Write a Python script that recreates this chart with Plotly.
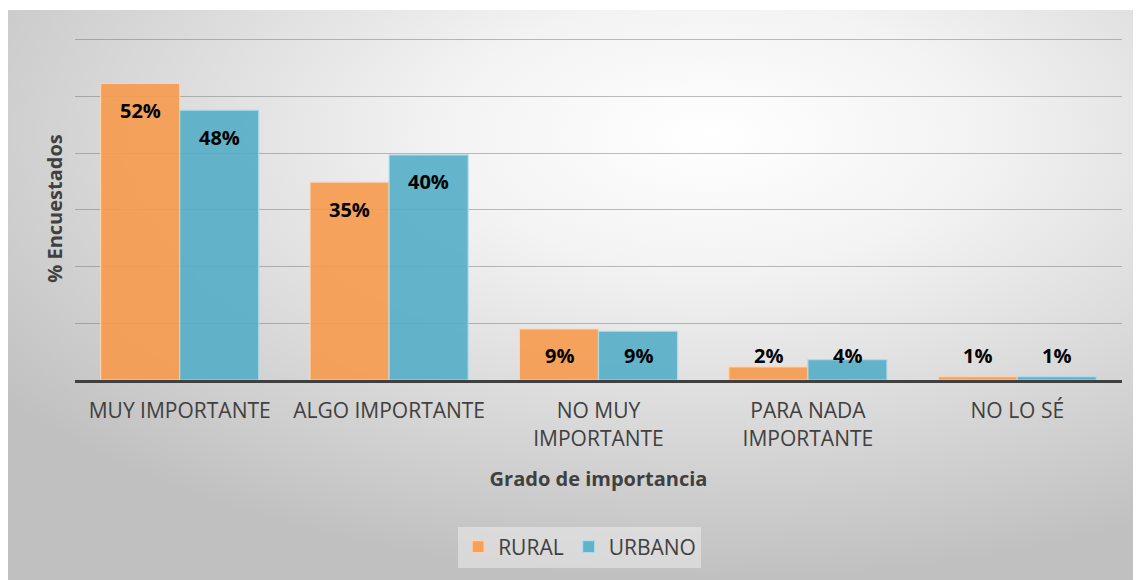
import base64
import plotly.graph_objects as go

categories = ["MUY IMPORTANTE", "ALGO IMPORTANTE", "NO MUY<br>IMPORTANTE",
              "PARA NADA<br>IMPORTANTE", "NO LO SÉ"]
rural = [52.3, 34.9, 9.0, 2.3, 0.6]
urbano = [47.6, 39.7, 8.6, 3.6, 0.6]

font = "'Open Sans', sans-serif"
grey_txt = "#404040"

# radial grey gradient behind the whole chart, like the Excel chart style
svg = """<svg xmlns='http://www.w3.org/2000/svg' width='1134' height='570'>
<defs><radialGradient id='g' cx='0.62' cy='0.22' r='0.78'>
<stop offset='0' stop-color='#ffffff'/>
<stop offset='0.3' stop-color='#f3f3f3'/>
<stop offset='1' stop-color='#c0c0c0'/>
</radialGradient></defs>
<rect width='1134' height='570' fill='url(#g)'/>
</svg>"""
bg_src = "data:image/svg+xml;base64," + base64.b64encode(svg.encode()).decode()

fig = go.Figure()
fig.add_trace(go.Bar(x=categories, y=rural, name="RURAL",
                     marker=dict(color="rgba(246,154,77,0.9)",
                                 line=dict(color="rgba(252,214,178,0.9)", width=1.2))))
fig.add_trace(go.Bar(x=categories, y=urbano, name="URBANO",
                     marker=dict(color="rgba(84,174,199,0.9)",
                                 line=dict(color="rgba(175,222,236,0.9)", width=1.2))))

# data labels: inside end, but never lower than a fixed height above the axis
for vals, shift in [(rural, -39.5), (urbano, 39.5)]:
    for cat, v in zip(categories, vals):
        fig.add_annotation(x=cat, y=max(v - 4.75, 4.4), xshift=shift,
                           text="%d%%" % round(v), showarrow=False,
                           font=dict(family=font, size=20, color="black", weight="bold"))

# page body adds 8px, so the paper is 8px smaller than the window
fig.update_layout(
    width=1133, height=572,
    margin=dict(l=67, r=19, t=29, b=200),
    paper_bgcolor="white", plot_bgcolor="rgba(0,0,0,0)",
    barmode="group", bargap=0.245, bargroupgap=0,
    font=dict(family=font, color=grey_txt, size=21),
    images=[dict(source=bg_src, xref="paper", yref="paper",
                 x=-0.064, y=1.0787, sizex=1.082, sizey=1.6618,
                 xanchor="left", yanchor="top", sizing="stretch", layer="below")],
    showlegend=True,
    legend=dict(orientation="h", x=0.482, y=-0.487, xanchor="center", yanchor="middle",
                bgcolor="rgba(240,240,240,0.5)", font=dict(size=21, color=grey_txt),
                traceorder="normal"),
)
fig.update_xaxes(showline=True, linecolor="#404040", linewidth=3, ticks="",
                 tickfont=dict(size=21, color=grey_txt), ticklabelstandoff=10,
                 title=dict(text="<b>Grado de importancia</b>", font=dict(size=20, color=grey_txt),
                            standoff=22))
fig.update_yaxes(range=[0, 60.5], dtick=10, showticklabels=False, zeroline=False,
                 gridcolor="rgba(110,110,110,0.45)", gridwidth=1.3,
                 title=dict(text="<b>% Encuestados</b>", font=dict(size=20, color=grey_txt),
                            standoff=6))

fig.write_html("out.html")
